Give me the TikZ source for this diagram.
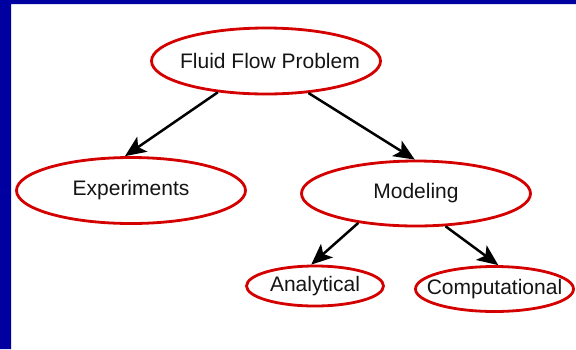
\documentclass[tikz,border=0pt]{standalone}
\usepackage{fontspec}
\setmainfont{Liberation Sans}
\usetikzlibrary{shapes.geometric,arrows.meta}
\definecolor{flowred}{RGB}{212,0,0}
\definecolor{flowblue}{RGB}{0,0,160}
\newcommand\nowidth[1]{\makebox[0pt]{#1}}
\begin{document}
\begin{tikzpicture}[x=1pt,y=-1pt,
  bubble/.style 2 args={ellipse,draw=flowred,line width=2.8pt,inner sep=0pt,
    minimum width=#1,minimum height=#2,text=black!92,
    font=\fontsize{21}{25}\selectfont},
  flow/.style={line width=2.5pt,-{Stealth[length=21pt,width=18pt,inset=5pt]}}]
  \useasboundingbox (0,0) rectangle (576,349);
  \fill[flowblue] (0,0) rectangle (576,4) (0,0) rectangle (11,349);
  \node[bubble={229}{66}] (fluid) at (266,61) {\nowidth{\hspace{8pt}Fluid Flow Problem}};
  \node[bubble={229}{66}] (exp) at (131,190.5) {\nowidth{Experiments}};
  \node[bubble={229}{65}] (model) at (416,193.5) {\nowidth{Modeling}};
  \node[bubble={137}{40}] (ana) at (315,286) {\nowidth{Analytical}};
  \node[bubble={158}{45}] (comp) at (494.5,289) {\nowidth{Computational}};
  \draw[flow] (fluid.213) -- (exp.100);
  \draw[flow] (fluid.323) -- (model.92);
  \draw[flow] (model.207) -- (ana.100);
  \draw[flow] (model.312) -- (comp.81);
\end{tikzpicture}
\end{document}
